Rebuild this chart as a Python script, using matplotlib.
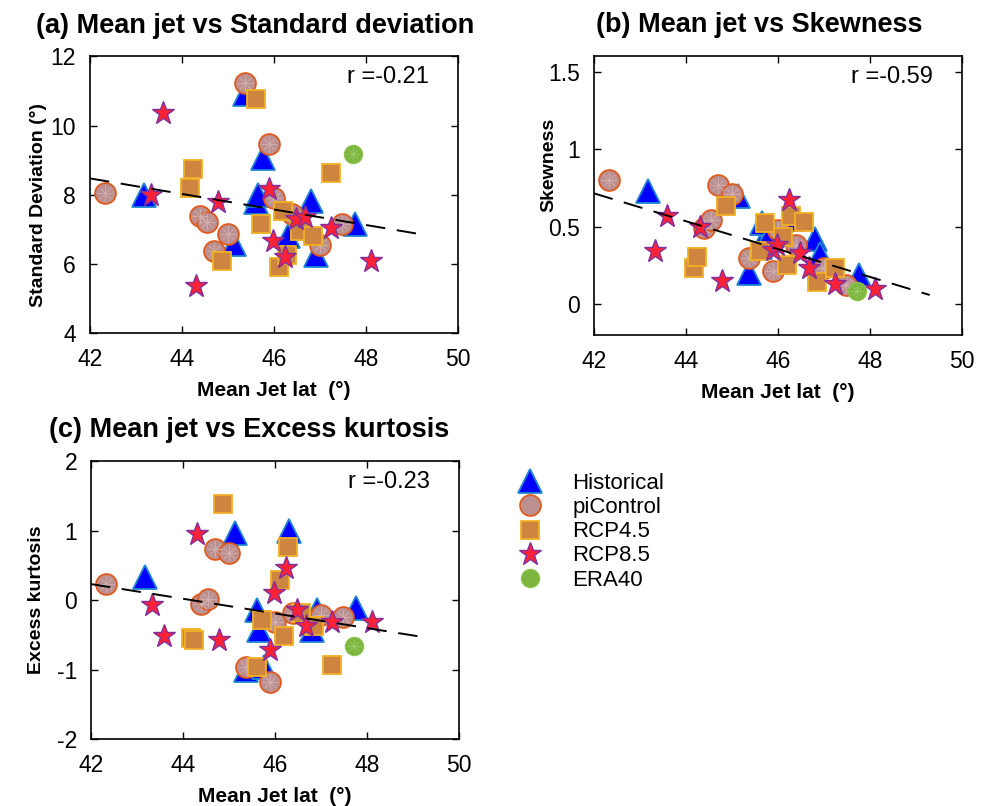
import numpy as np
import matplotlib
matplotlib.use('Agg')
import matplotlib.pyplot as plt

plt.rcParams['font.family'] = ['Liberation Sans', 'DejaVu Sans']

# mean jet latitude of each model run, and its jet statistics
hist_lat = [43.18, 45.14, 45.36, 45.60, 45.66, 45.76, 46.30, 46.80, 46.91, 47.77]
hist_std = [8.00, 6.58, 10.90, 7.78, 8.00, 9.07, 6.81, 7.82, 6.24, 7.15]
hist_skew = [0.73, 0.70, 0.20, 0.37, 0.52, 0.41, 0.55, 0.42, 0.32, 0.19]
hist_kurt = [0.33, 0.96, -1.00, -0.14, -0.43, -0.96, 1.00, -0.43, -0.14, -0.12]

pic_lat = [42.32, 44.40, 44.55, 44.70, 45.00, 45.36, 45.90, 46.00, 46.40, 47.00, 47.48]
pic_std = [8.06, 7.39, 7.22, 6.38, 6.86, 11.23, 9.48, 7.90, 7.44, 6.53, 7.15]
pic_skew = [0.80, 0.49, 0.54, 0.77, 0.71, 0.30, 0.21, 0.48, 0.38, 0.23, 0.12]
pic_kurt = [0.23, -0.05, 0.01, 0.73, 0.67, -0.96, -1.18, -0.31, -0.18, -0.22, -0.24]

r45_lat = [44.17, 44.25, 44.87, 45.61, 45.71, 46.12, 46.20, 46.29, 46.56, 46.84, 47.25]
r45_std = [8.20, 8.75, 6.07, 10.78, 7.15, 5.90, 7.53, 6.24, 6.96, 6.81, 8.64]
r45_skew = [0.23, 0.305, 0.63, 0.34, 0.52, 0.43, 0.25, 0.57, 0.53, 0.14, 0.23]
r45_kurt = [-0.55, -0.58, 1.38, -0.96, -0.28, 0.29, -0.52, 0.76, -0.19, -0.38, -0.94]

r85_lat = [43.32, 43.58, 44.31, 44.79, 45.90, 45.97, 46.25, 46.48, 46.68, 47.25, 48.10]
r85_std = [8.00, 10.35, 5.36, 7.78, 8.16, 6.67, 6.19, 7.30, 7.34, 7.03, 6.07]
r85_skew = [0.34, 0.57, 0.50, 0.15, 0.35, 0.38, 0.67, 0.33, 0.23, 0.13, 0.095]
r85_kurt = [-0.07, -0.52, 0.95, -0.57, -0.72, 0.10, 0.46, -0.15, -0.38, -0.31, -0.31]

era_lat = [47.72]
era_std = [9.17]
era_skew = [0.085]
era_kurt = [-0.66]

# regression lines as drawn (end points) and correlation
trend_lat = [42.0, 49.3]
trend_std = [8.47, 6.83]
trend_skew = [0.714, 0.058]
trend_kurt = [0.23, -0.54]
r_values = ['-0.21', '-0.59', '-0.23']

series = [
    ('Historical', dict(marker='^', ms=17, mfc='#0000ff', mec='#1f86d0', mew=1.3)),
    ('piControl', dict(marker='o', ms=15, mfc='#bc9090', mec='#e05a1e', mew=1.3)),
    ('RCP4.5', dict(marker='s', ms=12.5, mfc='#cd853f', mec='#f2b124', mew=1.3)),
    ('RCP8.5', dict(marker='*', ms=17, mfc='#ff2236', mec='#7f2f9f', mew=1.0)),
    ('ERA40', dict(marker='o', ms=13, mfc='#7db63e', mec='#8cc34c', mew=1.0)),
]
spokes = {'piControl': '#cfadad', 'ERA40': '#98c862'}


def panel(ax, lats, ys, trend_y, r, title, title_x, ylabel, ylabel_xy, ylim, yticks, yticklabels):
    handles = []
    for (name, style), x, y in zip(series, lats, ys):
        h, = ax.plot(x, y, ls='none', label=name, **style)
        handles.append(h)
        if name in spokes:
            ax.plot(x, y, ls='none', marker=(8, 2, 0), ms=style['ms'] * 0.75,
                    mec=spokes[name], mew=0.4)
    ax.plot(trend_lat, trend_y, color='black', lw=1.4, dashes=(10, 6))
    ax.text(0.92, 0.925, 'r =' + r, transform=ax.transAxes, ha='right', va='center', fontsize=17)
    ax.set_xlim(42, 50)
    ax.set_xticks([42, 44, 46, 48, 50])
    ax.set_ylim(*ylim)
    ax.set_yticks(yticks)
    ax.set_yticklabels(yticklabels)
    ax.tick_params(direction='in', top=True, right=True, length=5, width=1, labelsize=16.5)
    ax.tick_params(axis='x', pad=11)
    ax.tick_params(axis='y', pad=10)
    for s in ax.spines.values():
        s.set_linewidth(1.2)
    ax.set_xlabel('Mean Jet lat  (°)', fontsize=15, fontweight='bold', labelpad=7)
    ax.set_ylabel(ylabel, fontsize=14, fontweight='bold')
    ax.yaxis.set_label_coords(*ylabel_xy)
    ax.set_title(title, fontsize=19.5, fontweight='bold', x=title_x, pad=17)
    return handles


fig = plt.figure(figsize=(9.89, 8.06), dpi=100)
ax_a = fig.add_axes([0.091, 0.587, 0.372, 0.343])
ax_b = fig.add_axes([0.6006, 0.5844, 0.372, 0.346])
ax_c = fig.add_axes([0.092, 0.083, 0.372, 0.345])

all_lat = [hist_lat, pic_lat, r45_lat, r85_lat, era_lat]

panel(ax_a, all_lat, [hist_std, pic_std, r45_std, r85_std, era_std], trend_std, r_values[0],
      '(a) Mean jet vs Standard deviation', 0.45, 'Standard Deviation (°)', (-0.117, 0.463),
      (4, 12), [4, 6, 8, 10, 12], ['4', '6', '8', '10', '12'])
panel(ax_b, all_lat, [hist_skew, pic_skew, r45_skew, r85_skew, era_skew], trend_skew, r_values[1],
      '(b) Mean jet vs Skewness', 0.45, 'Skewness', (-0.1, 0.61),
      (-0.2, 1.6), [0, 0.5, 1, 1.5], ['0', '0.5', '1', '1.5'])
handles = panel(ax_c, all_lat, [hist_kurt, pic_kurt, r45_kurt, r85_kurt, era_kurt], trend_kurt,
                r_values[2], '(c) Mean jet vs Excess kurtosis', 0.43, 'Excess kurtosis',
                (-0.125, 0.5), (-2, 2), [-2, -1, 0, 1, 2], ['-2', '-1', '0', '1', '2'])

fig.legend(handles=handles, loc='upper left', bbox_to_anchor=(0.5137, 0.413), frameon=False,
           fontsize=16, handlelength=2, handletextpad=0.9, labelspacing=0.14, borderpad=0,
           borderaxespad=0, numpoints=1)

fig.savefig('out.png', dpi=100)
